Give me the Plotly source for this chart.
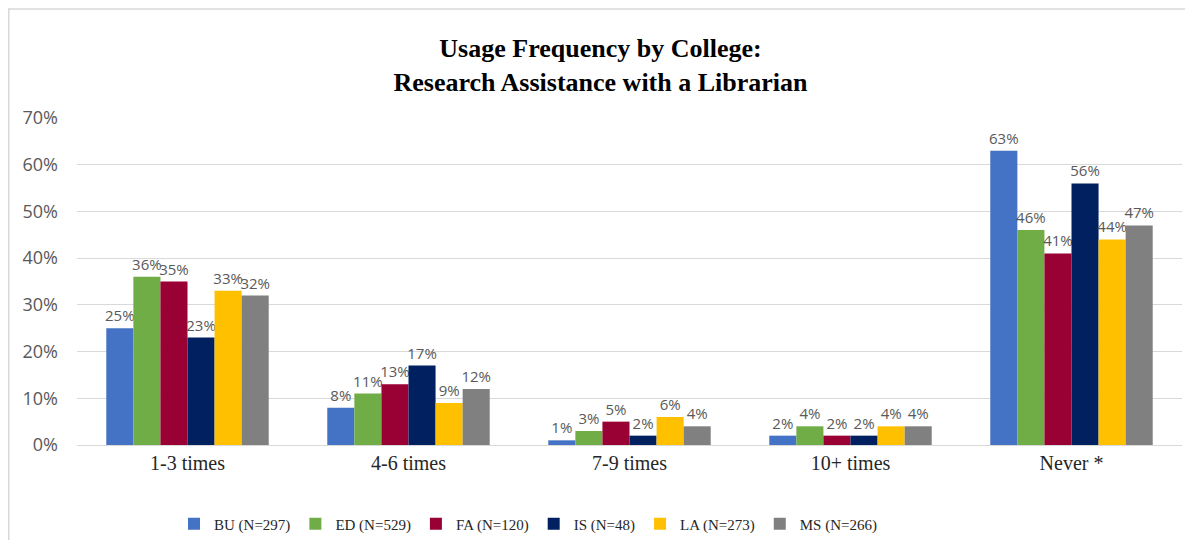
import plotly.graph_objects as go

categories = ["1-3 times", "4-6 times", "7-9 times", "10+ times", "Never *"]
series_names = ["BU (N=297)", "ED (N=529)", "FA (N=120)", "IS (N=48)", "LA (N=273)", "MS (N=266)"]
bu = [25, 8, 1, 2, 63]
ed = [36, 11, 3, 4, 46]
fa = [35, 13, 5, 2, 41]
is_ = [23, 17, 2, 2, 56]
la = [33, 9, 6, 4, 44]
ms = [32, 12, 4, 4, 47]
series_values = [bu, ed, fa, is_, la, ms]
colors = ["#4472C4", "#70AD47", "#990033", "#002060", "#FFC000", "#808080"]

# page body has an 8px margin, so the figure is drawn offset by (8, 8)
W, H = 1185, 532
ml, mr, mt, mb = 69, 11, 110, 95
pw, ph = W - ml - mr, H - mt - mb

fig = go.Figure()
for name, vals, c in zip(series_names, series_values, colors):
    fig.add_trace(go.Bar(
        x=categories, y=[v / 100 for v in vals], name=name,
        marker=dict(color=c, line=dict(width=0)),
        text=[f"{v}%" for v in vals], textposition="outside",
        textfont=dict(family="Open Sans", size=15, color="#595959"),
        constraintext="none", cliponaxis=False,
    ))

fig.update_layout(
    width=W, height=H,
    margin=dict(l=ml, r=mr, t=mt, b=mb),
    paper_bgcolor="white", plot_bgcolor="white",
    barmode="group", bargap=0.265, bargroupgap=0,
    title=dict(
        text="<b>Usage Frequency by College:<br>Research Assistance with a Librarian</b>",
        x=0.5, xanchor="center", y=1 - 49 / H, yanchor="middle", yref="container",
        font=dict(family="Liberation Serif", size=26, color="black"),
    ),
    xaxis=dict(
        showgrid=False, showline=False, ticks="", ticklabelstandoff=4,
        tickfont=dict(family="Liberation Serif", size=20, color="#262626"),
    ),
    yaxis=dict(
        range=[0, 0.7], dtick=0.1, tickformat=".0%",
        showgrid=True, gridcolor="#d9d9d9", gridwidth=1,
        zeroline=True, zerolinecolor="#d9d9d9", zerolinewidth=1,
        showline=False, ticks="", ticklabelstandoff=18,
        tickfont=dict(family="Open Sans", size=18, color="#595959"),
    ),
    legend=dict(
        orientation="h", x=(166 - ml) / pw, xanchor="left", y=1 - 516 / H, yanchor="middle",
        yref="container",
        font=dict(family="Liberation Serif", size=15, color="#262626"),
        itemwidth=30, traceorder="normal",
    ),
    shapes=[dict(
        type="rect", xref="paper", yref="paper",
        x0=(0.75 - ml) / pw, x1=(W + 10 - ml) / pw,
        y0=-(H + 10 - (H - mb)) / ph, y1=(H - mb - 1) / ph,
        line=dict(color="#d9d9d9", width=1.5), fillcolor="rgba(0,0,0,0)", layer="below",
    )],
)

fig.write_html("out.html")
